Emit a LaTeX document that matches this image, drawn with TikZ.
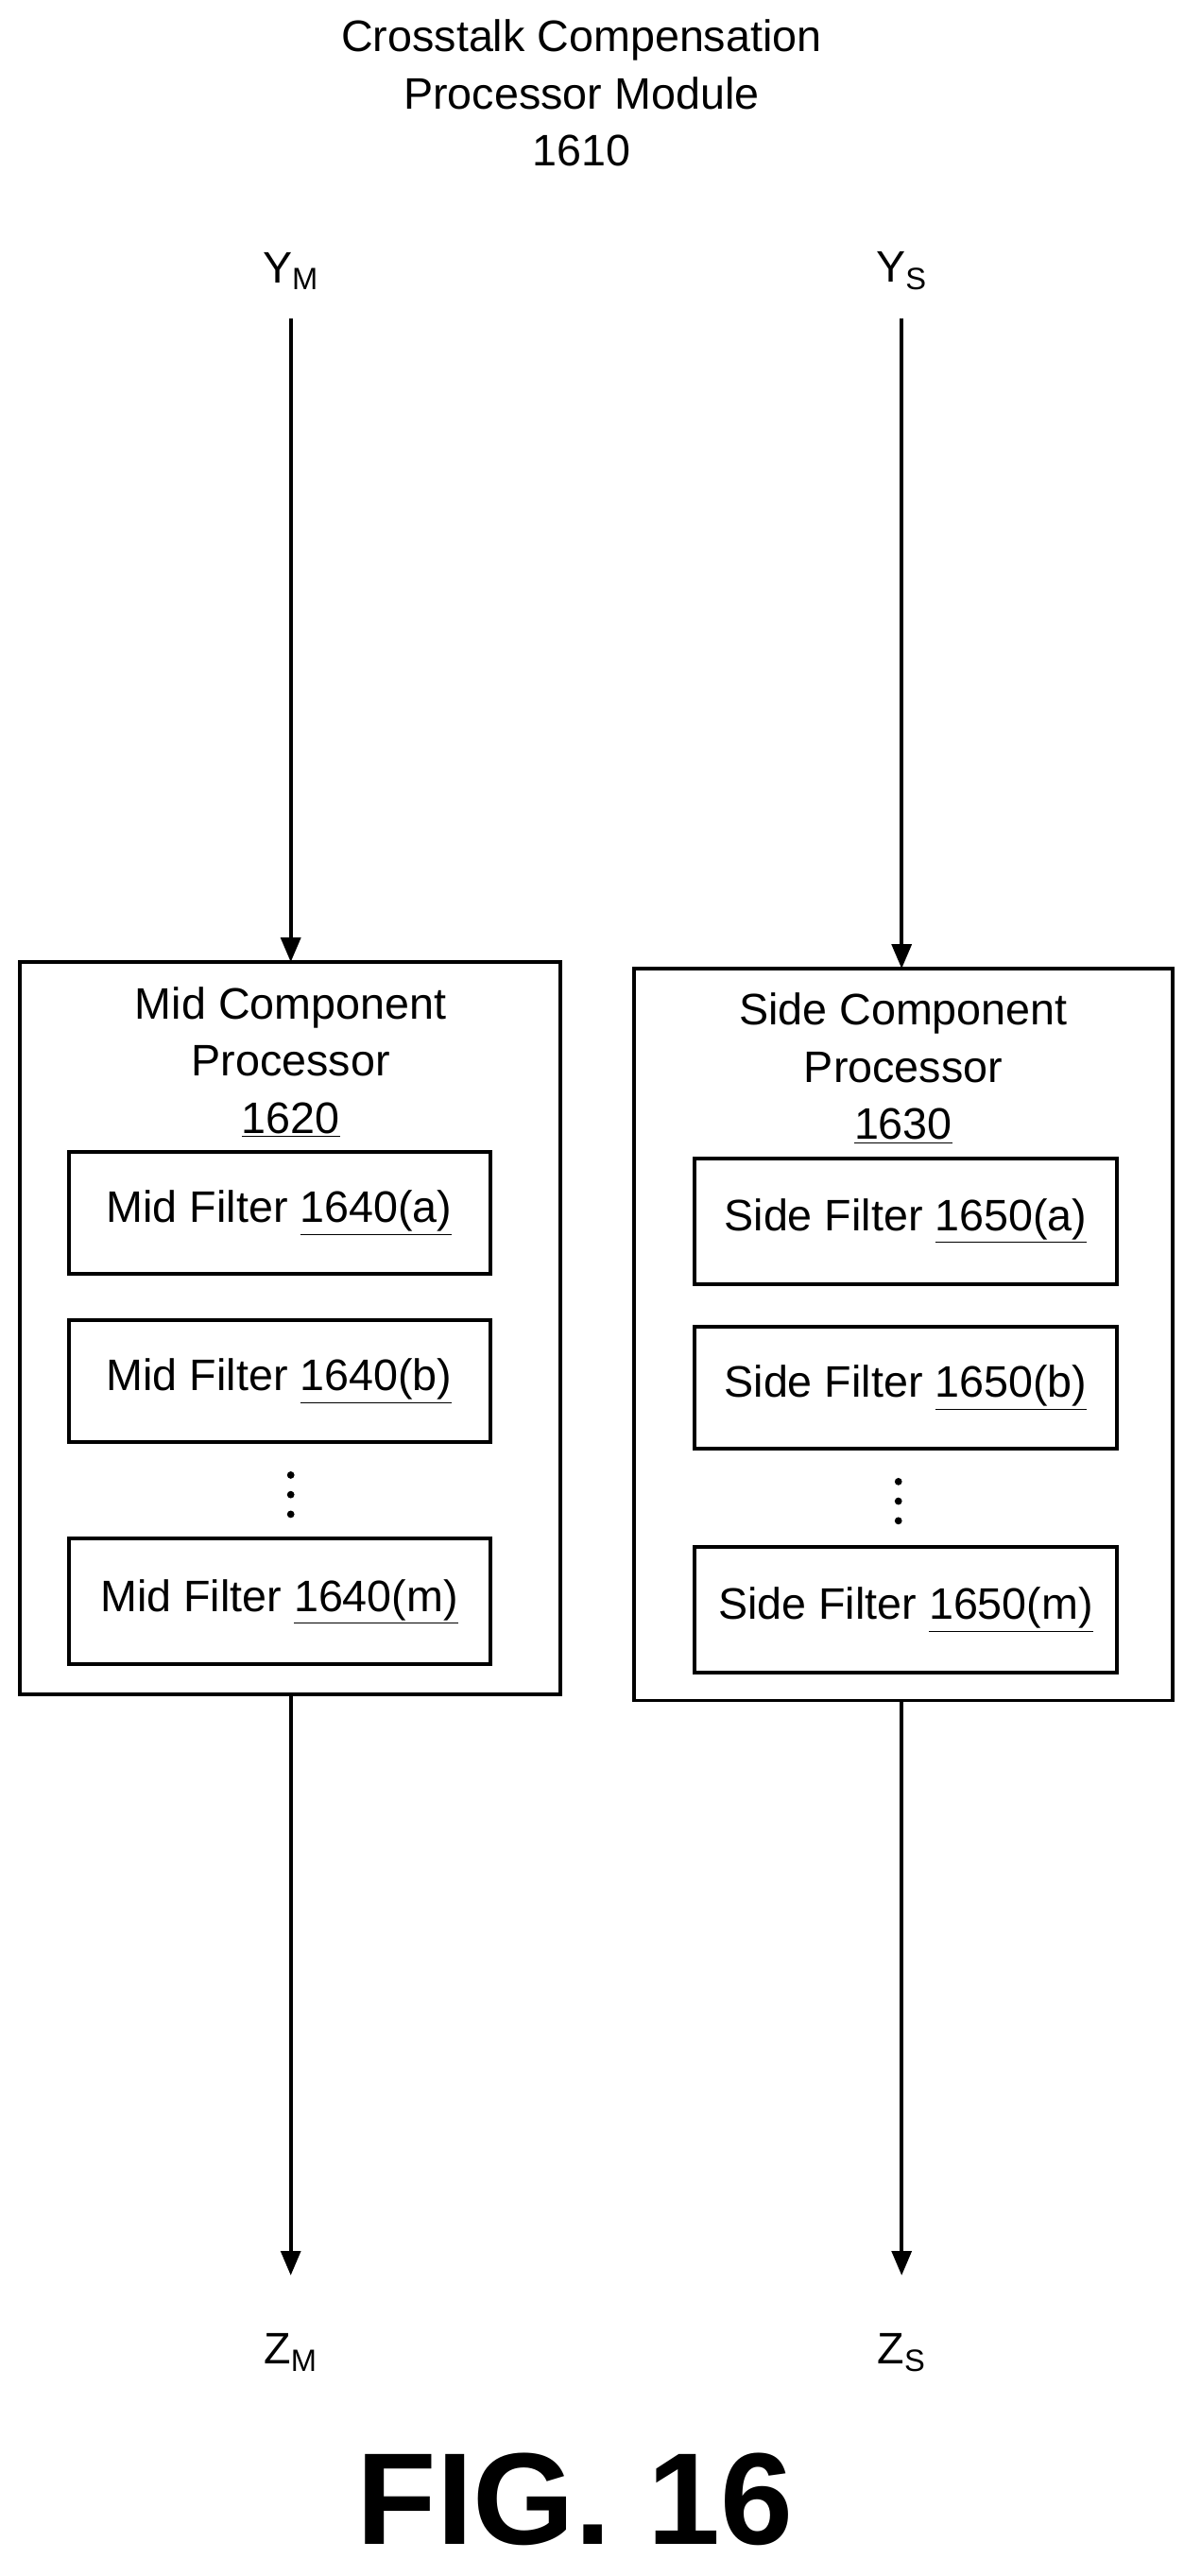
\documentclass[tikz,border=0pt]{standalone}
\usepackage{fontspec}
\setmainfont{Liberation Sans}
\usetikzlibrary{arrows.meta}
\begin{document}
\begin{tikzpicture}[x=1pt,y=-1pt,
  txt/.style={font=\fontsize{27}{35}\selectfont,align=center,inner sep=0},
  box/.style={draw,line width=2.3pt},
  arr/.style={line width=2.3pt,-{Triangle[length=15pt,width=12pt]}},
  dot/.style={fill,circle,inner sep=0,minimum size=4.5pt}]
\useasboundingbox (0,0) rectangle (734.7,1577);
\node[txt] (title) at (356,57) {Crosstalk Compensation\\Processor Module\\1610};
\node[txt] (ym) at (178,166) {Y\textsubscript{M}};
\node[txt] (ys) at (552,166) {Y\textsubscript{S}};
% mid
\draw[box] (12,589) rectangle (343,1037);
\node[txt] (midt) at (178,650) {Mid Component\\Processor\\\underline{1620}};
\node[box,minimum width=258pt,minimum height=75pt,txt] (m1) at (171,742.5) {Mid Filter \underline{1640(a)}};
\node[box,minimum width=258pt,minimum height=75pt,txt] (m2) at (171,845.5) {Mid Filter \underline{1640(b)}};
\node[box,minimum width=258pt,minimum height=77pt,txt] (m3) at (171,980.5) {Mid Filter \underline{1640(m)}};
\node[dot] (md1) at (178,903) {};
\node[dot] (md2) at (178,915) {};
\node[dot] (md3) at (178,927) {};
% side
\draw[box] (388,593) rectangle (718,1041);
\node[txt] (sidet) at (553,654) {Side Component\\Processor\\\underline{1630}};
\node[box,minimum width=259pt,minimum height=77pt,txt] (s1) at (554.5,747.5) {Side Filter \underline{1650(a)}};
\node[box,minimum width=259pt,minimum height=75pt,txt] (s2) at (554.5,849.5) {Side Filter \underline{1650(b)}};
\node[box,minimum width=259pt,minimum height=77pt,txt] (s3) at (554.5,985.5) {Side Filter \underline{1650(m)}};
\node[dot] (sd1) at (550,907) {};
\node[dot] (sd2) at (550,919) {};
\node[dot] (sd3) at (550,931) {};
\coordinate (mt) at (178,589); \coordinate (mb) at (178,1037);
\coordinate (st) at (552,593); \coordinate (sb) at (552,1041);
\node[txt] (zm) at (178,1440) {Z\textsubscript{M}};
\node[txt] (zs) at (552,1440) {Z\textsubscript{S}};
\draw[arr] (178,195) -- (mt);
\draw[arr] (552,195) -- (st);
\draw[arr] (mb) -- (178,1393);
\draw[arr] (sb) -- (552,1393);
\node[txt,font=\fontsize{80}{80}\selectfont\bfseries] (fig) at (352,1530) {FIG. 16};
\end{tikzpicture}
\end{document}
